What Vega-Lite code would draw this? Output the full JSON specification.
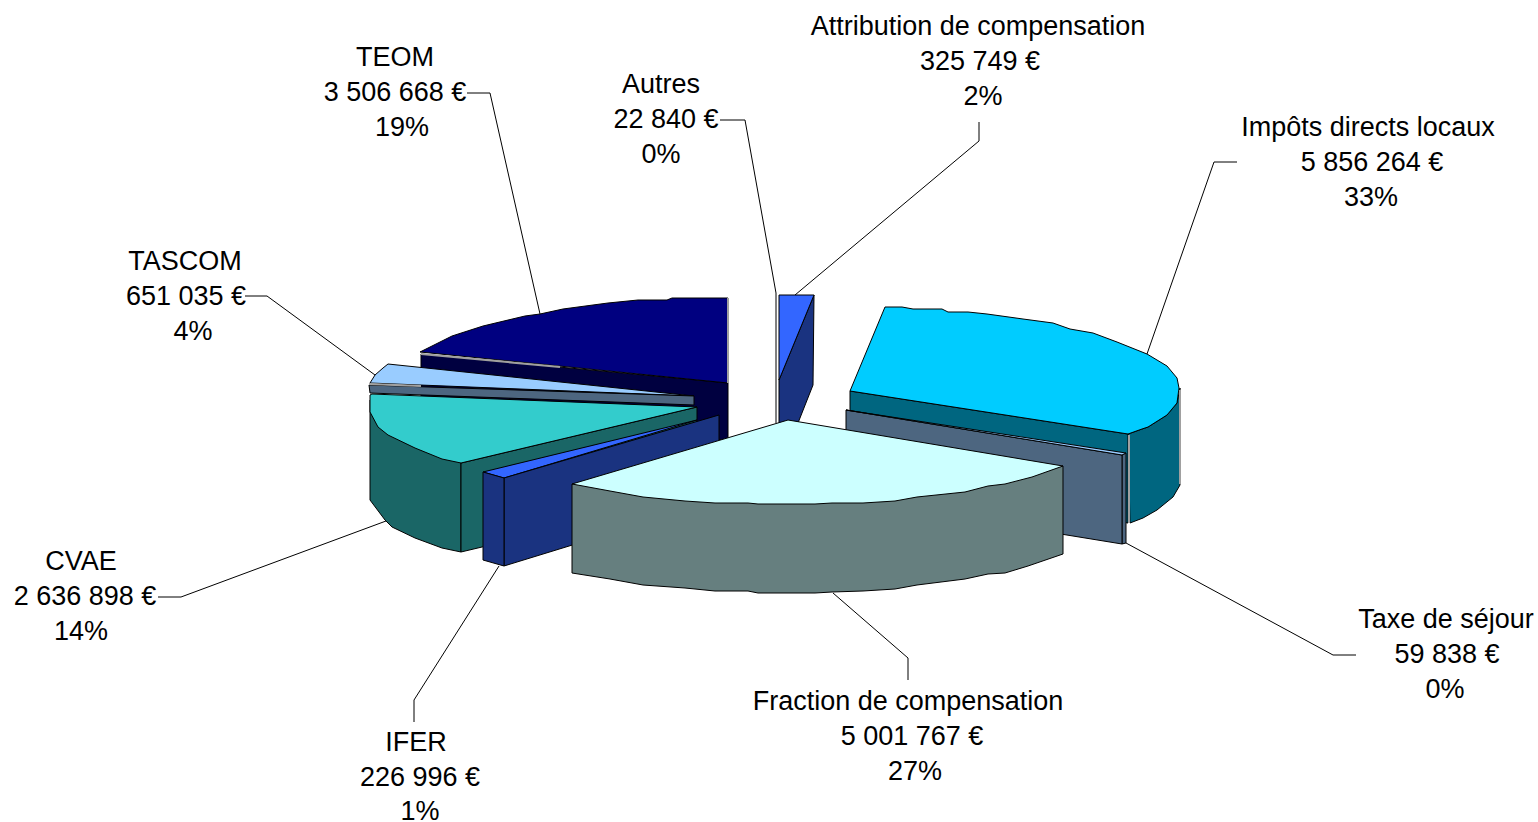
{"$schema":"https://vega.github.io/schema/vega-lite/v6.json","width":1538,"height":822,"padding":0,"autosize":{"type":"none"},"background":"white","config":{"view":{"stroke":null}},
"datasets":{
"faces":[
{"p":"TEOM côté","x":421,"y":354},{"p":"TEOM côté","x":728,"y":383},{"p":"TEOM côté","x":728,"y":440},{"p":"TEOM côté","x":421,"y":420},{"p":"TEOM côté","x":421,"y":354},
{"p":"TEOM dessus","x":420,"y":352},{"p":"TEOM dessus","x":452,"y":336},{"p":"TEOM dessus","x":483,"y":326},{"p":"TEOM dessus","x":525,"y":316},{"p":"TEOM dessus","x":540,"y":314},{"p":"TEOM dessus","x":563,"y":309},{"p":"TEOM dessus","x":608,"y":303},{"p":"TEOM dessus","x":638,"y":300},{"p":"TEOM dessus","x":667,"y":300},{"p":"TEOM dessus","x":672,"y":298},{"p":"TEOM dessus","x":728,"y":298},{"p":"TEOM dessus","x":728,"y":383},{"p":"TEOM dessus","x":420,"y":352},
{"p":"TASCOM dessus","x":388,"y":364},{"p":"TASCOM dessus","x":694,"y":396},{"p":"TASCOM dessus","x":370,"y":383},{"p":"TASCOM dessus","x":375,"y":375},{"p":"TASCOM dessus","x":383,"y":368},{"p":"TASCOM dessus","x":388,"y":364},
{"p":"TASCOM côté","x":369,"y":385},{"p":"TASCOM côté","x":694,"y":396},{"p":"TASCOM côté","x":694,"y":405},{"p":"TASCOM côté","x":370,"y":393},{"p":"TASCOM côté","x":369,"y":385},
{"p":"CVAE extérieur","x":370,"y":400},{"p":"CVAE extérieur","x":461,"y":463},{"p":"CVAE extérieur","x":461,"y":552},{"p":"CVAE extérieur","x":442,"y":548},{"p":"CVAE extérieur","x":415,"y":538},{"p":"CVAE extérieur","x":392,"y":527},{"p":"CVAE extérieur","x":385,"y":520},{"p":"CVAE extérieur","x":370,"y":500},{"p":"CVAE extérieur","x":370,"y":400},
{"p":"CVAE intérieur","x":461,"y":463},{"p":"CVAE intérieur","x":697,"y":407},{"p":"CVAE intérieur","x":697,"y":496},{"p":"CVAE intérieur","x":461,"y":552},{"p":"CVAE intérieur","x":461,"y":463},
{"p":"CVAE dessus","x":372,"y":394},{"p":"CVAE dessus","x":697,"y":407},{"p":"CVAE dessus","x":461,"y":463},{"p":"CVAE dessus","x":442,"y":459},{"p":"CVAE dessus","x":415,"y":448},{"p":"CVAE dessus","x":388,"y":435},{"p":"CVAE dessus","x":378,"y":427},{"p":"CVAE dessus","x":370,"y":412},{"p":"CVAE dessus","x":370,"y":395},{"p":"CVAE dessus","x":372,"y":394},
{"p":"Impôts extérieur","x":1128,"y":434},{"p":"Impôts extérieur","x":1142,"y":429},{"p":"Impôts extérieur","x":1148,"y":427},{"p":"Impôts extérieur","x":1167,"y":415},{"p":"Impôts extérieur","x":1177,"y":403},{"p":"Impôts extérieur","x":1180,"y":388},{"p":"Impôts extérieur","x":1180,"y":485},{"p":"Impôts extérieur","x":1173,"y":497},{"p":"Impôts extérieur","x":1157,"y":510},{"p":"Impôts extérieur","x":1143,"y":518},{"p":"Impôts extérieur","x":1130,"y":523},{"p":"Impôts extérieur","x":1128,"y":434},
{"p":"Impôts intérieur","x":850,"y":391},{"p":"Impôts intérieur","x":1128,"y":434},{"p":"Impôts intérieur","x":1128,"y":523},{"p":"Impôts intérieur","x":850,"y":480},{"p":"Impôts intérieur","x":850,"y":391},
{"p":"Impôts dessus","x":885,"y":307},{"p":"Impôts dessus","x":850,"y":391},{"p":"Impôts dessus","x":1128,"y":434},{"p":"Impôts dessus","x":1142,"y":429},{"p":"Impôts dessus","x":1148,"y":427},{"p":"Impôts dessus","x":1167,"y":415},{"p":"Impôts dessus","x":1177,"y":403},{"p":"Impôts dessus","x":1179,"y":388},{"p":"Impôts dessus","x":1177,"y":378},{"p":"Impôts dessus","x":1167,"y":366},{"p":"Impôts dessus","x":1147,"y":354},{"p":"Impôts dessus","x":1117,"y":342},{"p":"Impôts dessus","x":1093,"y":333},{"p":"Impôts dessus","x":1070,"y":329},{"p":"Impôts dessus","x":1053,"y":323},{"p":"Impôts dessus","x":1023,"y":319},{"p":"Impôts dessus","x":987,"y":314},{"p":"Impôts dessus","x":968,"y":312},{"p":"Impôts dessus","x":948,"y":312},{"p":"Impôts dessus","x":942,"y":309},{"p":"Impôts dessus","x":913,"y":309},{"p":"Impôts dessus","x":902,"y":307},{"p":"Impôts dessus","x":885,"y":307},
{"p":"Attribution côté","x":814,"y":295},{"p":"Attribution côté","x":779,"y":380},{"p":"Attribution côté","x":779,"y":423},{"p":"Attribution côté","x":798,"y":423},{"p":"Attribution côté","x":813,"y":385},{"p":"Attribution côté","x":814,"y":295},
{"p":"Attribution dessus","x":779,"y":295},{"p":"Attribution dessus","x":814,"y":295},{"p":"Attribution dessus","x":779,"y":380},{"p":"Attribution dessus","x":779,"y":295},
{"p":"Taxe côté","x":1122,"y":455},{"p":"Taxe côté","x":1126,"y":453},{"p":"Taxe côté","x":1126,"y":543},{"p":"Taxe côté","x":1122,"y":544},{"p":"Taxe côté","x":1122,"y":455},
{"p":"Taxe face","x":846,"y":410},{"p":"Taxe face","x":1122,"y":455},{"p":"Taxe face","x":1122,"y":544},{"p":"Taxe face","x":846,"y":499},{"p":"Taxe face","x":846,"y":410},
{"p":"Taxe dessus","x":846,"y":410},{"p":"Taxe dessus","x":1126,"y":453},{"p":"Taxe dessus","x":1122,"y":455},{"p":"Taxe dessus","x":846,"y":410},
{"p":"IFER dessus","x":483,"y":472},{"p":"IFER dessus","x":697,"y":420},{"p":"IFER dessus","x":504,"y":478},{"p":"IFER dessus","x":483,"y":472},
{"p":"IFER face","x":504,"y":478},{"p":"IFER face","x":719,"y":415},{"p":"IFER face","x":719,"y":500},{"p":"IFER face","x":504,"y":566},{"p":"IFER face","x":504,"y":478},
{"p":"IFER côté","x":483,"y":472},{"p":"IFER côté","x":504,"y":478},{"p":"IFER côté","x":504,"y":566},{"p":"IFER côté","x":483,"y":560},{"p":"IFER côté","x":483,"y":472},
{"p":"Fraction côté","x":572,"y":484},{"p":"Fraction côté","x":1063,"y":466},{"p":"Fraction côté","x":1063,"y":554},{"p":"Fraction côté","x":1028,"y":566},{"p":"Fraction côté","x":1005,"y":573},{"p":"Fraction côté","x":988,"y":574},{"p":"Fraction côté","x":965,"y":579},{"p":"Fraction côté","x":917,"y":585},{"p":"Fraction côté","x":895,"y":589},{"p":"Fraction côté","x":863,"y":591},{"p":"Fraction côté","x":832,"y":592},{"p":"Fraction côté","x":815,"y":593},{"p":"Fraction côté","x":758,"y":593},{"p":"Fraction côté","x":748,"y":591},{"p":"Fraction côté","x":715,"y":591},{"p":"Fraction côté","x":685,"y":588},{"p":"Fraction côté","x":643,"y":585},{"p":"Fraction côté","x":610,"y":579},{"p":"Fraction côté","x":572,"y":573},{"p":"Fraction côté","x":572,"y":484},
{"p":"Fraction dessus","x":788,"y":420},{"p":"Fraction dessus","x":1063,"y":466},{"p":"Fraction dessus","x":1032,"y":477},{"p":"Fraction dessus","x":1005,"y":484},{"p":"Fraction dessus","x":988,"y":486},{"p":"Fraction dessus","x":965,"y":492},{"p":"Fraction dessus","x":917,"y":497},{"p":"Fraction dessus","x":895,"y":501},{"p":"Fraction dessus","x":863,"y":503},{"p":"Fraction dessus","x":832,"y":503},{"p":"Fraction dessus","x":815,"y":504},{"p":"Fraction dessus","x":758,"y":504},{"p":"Fraction dessus","x":748,"y":503},{"p":"Fraction dessus","x":715,"y":503},{"p":"Fraction dessus","x":685,"y":501},{"p":"Fraction dessus","x":643,"y":497},{"p":"Fraction dessus","x":610,"y":491},{"p":"Fraction dessus","x":572,"y":484},{"p":"Fraction dessus","x":788,"y":420}
],
"accents":[
{"l":"bande Impôts","x":1129,"y":435},{"l":"bande Impôts","x":1129,"y":523},
{"l":"bord Impôts","x":1180,"y":390},{"l":"bord Impôts","x":1180,"y":484},
{"l":"bord TEOM","x":421,"y":354},{"l":"bord TEOM","x":560,"y":367},
{"l":"bord droit TEOM","x":728,"y":298},{"l":"bord droit TEOM","x":728,"y":383},
{"l":"bord TASCOM","x":369,"y":384},{"l":"bord TASCOM","x":421,"y":386}
],
"leaders":[
{"l":"Attribution","x":979,"y":122},{"l":"Attribution","x":979,"y":141},{"l":"Attribution","x":795,"y":295},
{"l":"Impôts","x":1237,"y":162},{"l":"Impôts","x":1214,"y":162},{"l":"Impôts","x":1147,"y":354},
{"l":"Taxe","x":1126,"y":543},{"l":"Taxe","x":1333,"y":655},{"l":"Taxe","x":1356,"y":655},
{"l":"Fraction","x":833,"y":593},{"l":"Fraction","x":908,"y":658},{"l":"Fraction","x":908,"y":680},
{"l":"IFER","x":499,"y":566},{"l":"IFER","x":414,"y":700},{"l":"IFER","x":414,"y":722},
{"l":"CVAE","x":386,"y":521},{"l":"CVAE","x":181,"y":597},{"l":"CVAE","x":158,"y":597},
{"l":"TASCOM","x":375,"y":375},{"l":"TASCOM","x":267,"y":296},{"l":"TASCOM","x":245,"y":296},
{"l":"TEOM","x":540,"y":314},{"l":"TEOM","x":490,"y":93},{"l":"TEOM","x":467,"y":93},
{"l":"Autres","x":720,"y":120},{"l":"Autres","x":745,"y":120},{"l":"Autres","x":776,"y":293},{"l":"Autres","x":776,"y":423}
],
"labels":[
{"t":"Attribution de compensation","x":978,"y":26},{"t":"325 749 €","x":980,"y":61},{"t":"2%","x":983,"y":96},
{"t":"Impôts directs locaux","x":1368,"y":127},{"t":"5 856 264 €","x":1372,"y":162},{"t":"33%","x":1371,"y":197},
{"t":"Taxe de séjour","x":1446,"y":619},{"t":"59 838 €","x":1447,"y":654},{"t":"0%","x":1445,"y":689},
{"t":"Fraction de compensation","x":908,"y":701},{"t":"5 001 767 €","x":912,"y":736},{"t":"27%","x":915,"y":771},
{"t":"IFER","x":416,"y":742},{"t":"226 996 €","x":420,"y":777},{"t":"1%","x":420,"y":811},
{"t":"CVAE","x":81,"y":561},{"t":"2 636 898 €","x":85,"y":596},{"t":"14%","x":81,"y":631},
{"t":"TASCOM","x":185,"y":261},{"t":"651 035 €","x":186,"y":296},{"t":"4%","x":193,"y":331},
{"t":"TEOM","x":395,"y":57},{"t":"3 506 668 €","x":395,"y":92},{"t":"19%","x":402,"y":127},
{"t":"Autres","x":661,"y":84},{"t":"22 840 €","x":666,"y":119},{"t":"0%","x":661,"y":154}
]},
"encoding":{
"x":{"field":"x","type":"quantitative","scale":{"domain":[0,1538],"nice":false,"zero":false},"axis":null},
"y":{"field":"y","type":"quantitative","scale":{"domain":[822,0],"nice":false,"zero":false},"axis":null}},
"layer":[
{"data":{"name":"faces"},"mark":{"type":"line","strokeWidth":1,"stroke":"#000000","strokeJoin":"miter","interpolate":"linear","clip":false},
"encoding":{"order":{"value":null},"detail":{"field":"p"},"fill":{"field":"p","type":"nominal","legend":null,"sort":null,"scale":{
"domain":["TEOM côté","TEOM dessus","TASCOM dessus","TASCOM côté","CVAE extérieur","CVAE intérieur","CVAE dessus","Impôts extérieur","Impôts intérieur","Impôts dessus","Attribution côté","Attribution dessus","Taxe côté","Taxe face","Taxe dessus","IFER dessus","IFER face","IFER côté","Fraction côté","Fraction dessus"],
"range":["#000040","#000080","#99CCFF","#4D6680","#1A6666","#1A6666","#33CCCC","#006680","#006680","#00CCFF","#1A3380","#3366FF","#4D6680","#4D6680","#99CCFF","#3366FF","#1A3380","#1A3380","#667F7F","#CCFFFF"]}}}},
{"data":{"name":"accents"},"mark":{"type":"line","strokeWidth":2,"color":"#A0A0A0"},"encoding":{"order":{"value":null},"detail":{"field":"l"}}},
{"data":{"name":"leaders"},"mark":{"type":"line","strokeWidth":1,"color":"#000000"},"encoding":{"order":{"value":null},"detail":{"field":"l"}}},
{"data":{"name":"labels"},"mark":{"type":"text","font":"Liberation Sans","fontSize":27,"dy":1,"align":"center","baseline":"middle","color":"#000000"},"encoding":{"text":{"field":"t"}}}
]}
